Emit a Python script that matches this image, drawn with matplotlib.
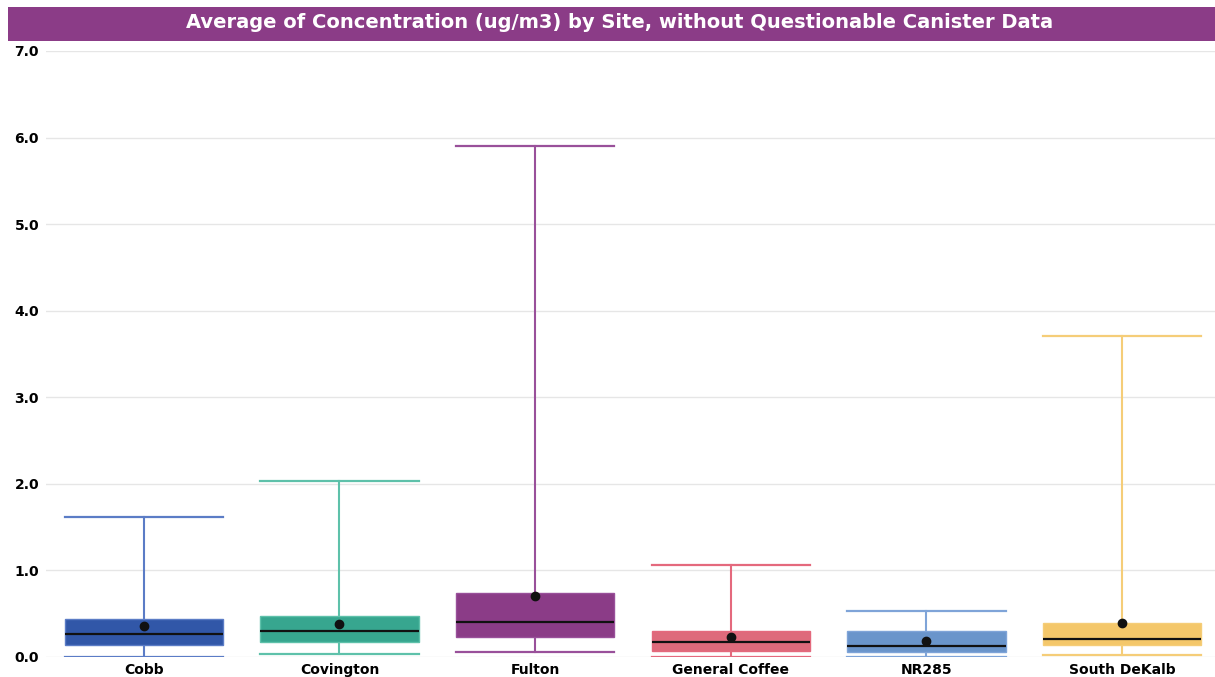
import matplotlib
matplotlib.use("Agg")
import matplotlib.pyplot as plt
from matplotlib.patches import Rectangle

sites = ["Cobb", "Covington", "Fulton", "General Coffee", "NR285", "South DeKalb"]
mins = [0.0, 0.035, 0.054, 0.0, 0.0, 0.027]
q1s = [0.14, 0.17, 0.227, 0.073, 0.058, 0.135]
medians = [0.265, 0.297, 0.408, 0.173, 0.13, 0.208]
q3s = [0.435, 0.477, 0.742, 0.297, 0.297, 0.389]
maxs = [1.62, 2.03, 5.90, 1.066, 0.535, 3.71]
means = [0.355, 0.378, 0.704, 0.235, 0.188, 0.389]
y_ticks = [0.0, 1.0, 2.0, 3.0, 4.0, 5.0, 6.0, 7.0]

box_colors = ["#3157A8", "#37A68F", "#8B3C87", "#DE6A7B", "#6A95CB", "#F4C76A"]
line_colors = ["#5B7CC6", "#5EC1AA", "#99509A", "#E4697D", "#7FA4D8", "#F5CD78"]

plt.rcParams["font.family"] = ["DejaVu Sans"]

fig = plt.figure(figsize=(12.15, 6.77), dpi=100)
ax = fig.add_axes([46 / 1215, 20 / 677, 1174 / 1215, 606 / 677])

stats = []
for i, s in enumerate(sites):
    stats.append(dict(label=s, whislo=mins[i], q1=q1s[i], med=medians[i],
                      q3=q3s[i], whishi=maxs[i], mean=means[i]))

for i, st in enumerate(stats):
    bp = ax.bxp([st], positions=[i], widths=0.81, patch_artist=True,
                showmeans=True, showfliers=False, capwidths=0.81,
                boxprops=dict(facecolor=box_colors[i], edgecolor=line_colors[i], linewidth=1.0),
                whiskerprops=dict(color=line_colors[i], linewidth=1.5),
                capprops=dict(color=line_colors[i], linewidth=1.6),
                medianprops=dict(color="#111111", linewidth=1.6),
                meanprops=dict(marker="o", markerfacecolor="#111111",
                               markeredgecolor="#111111", markersize=6))
    for w in bp["whiskers"]:
        w.set_zorder(1)
    for c in bp["caps"]:
        c.set_zorder(1)
    for b in bp["boxes"]:
        b.set_zorder(2)
    for m in bp["medians"]:
        m.set_zorder(3)
    for m in bp["means"]:
        m.set_zorder(4)

ax.set_xlim(-0.5, 5.5)
ax.set_ylim(0, 7.0)
ax.set_yticks(y_ticks)
ax.set_yticklabels([f"{v:.1f}" for v in y_ticks], fontsize=10, fontweight="bold")
ax.set_xticks(range(len(sites)))
ax.set_xticklabels(sites, fontsize=10, fontweight="bold")
ax.tick_params(axis="both", length=0)
ax.tick_params(axis="y", pad=5)
ax.tick_params(axis="x", pad=4)
ax.yaxis.grid(True, color="#E6E6E6", linewidth=1.0)
ax.set_axisbelow(True)
for sp in ax.spines.values():
    sp.set_visible(False)

# Title banner
fig.patches.append(Rectangle((8 / 1215, 1 - 41 / 677), 1 - 8 / 1215, 34 / 677,
                             transform=fig.transFigure, facecolor="#8B3C87",
                             edgecolor="none", zorder=0))
fig.text(620 / 1215, 1 - 23 / 677,
         "Average of Concentration (ug/m3) by Site, without Questionable Canister Data",
         ha="center", va="center", color="white", fontsize=14, fontweight="bold")

fig.savefig("out.png", dpi=100)
